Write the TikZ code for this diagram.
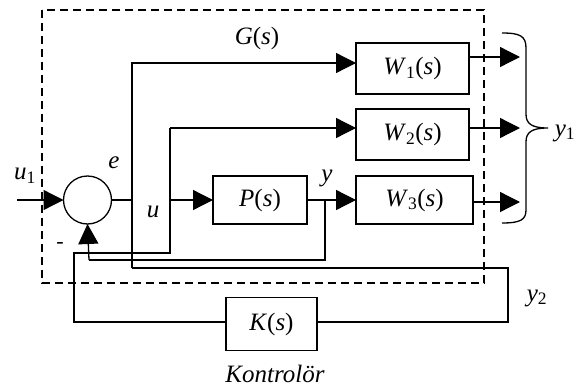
\documentclass[tikz,border=0pt]{standalone}
\usepackage{fontspec}
\setmainfont{Liberation Serif}
\usetikzlibrary{arrows.meta}
\begin{document}
\begin{tikzpicture}[x=1pt,y=-1pt,
  line width=1.3pt,
  blk/.style={draw, inner sep=0pt, outer sep=0pt, font=\fontsize{25}{29}\selectfont},
  lbl/.style={inner sep=0pt, font=\fontsize{25}{29}\selectfont\itshape},
  arr/.style={-{Triangle[length=20pt,width=20pt]}}]
\useasboundingbox (0,0) rectangle (584,391);
% dashed G(s) frame
\draw[dash pattern=on 8pt off 5pt, line width=1.2pt] (42,10) rectangle (484,283);
% blocks
\node[draw, circle, minimum size=48pt, inner sep=0pt, outer sep=0pt] (sum) at (87.5,200) {};
\node[blk, minimum width=113pt, minimum height=51pt] (W1) at (412.5,68.5) {\textit{W}\textsubscript{1}(\textit{s})};
\node[blk, minimum width=113pt, minimum height=51pt] (W2) at (412.5,134.5) {\textit{W}\textsubscript{2}(\textit{s})};
\node[blk, minimum width=117pt, minimum height=48pt] (W3) at (414.5,200) {\textit{W}\textsubscript{3}(\textit{s})};
\node[blk, minimum width=94pt, minimum height=48pt] (P) at (260,200) {\textit{P}(\textit{s})};
\node[blk, minimum width=91pt, minimum height=53pt] (K) at (271.5,324) {\textit{K}(\textit{s})};
% coordinates
\coordinate (u1in) at (17,200);
\coordinate (ej) at (132,200);
\coordinate (etop) at (132,63);
\coordinate (ebot) at (132,268);
\coordinate (ec1) at (508,268);
\coordinate (ec2) at (508,322);
\coordinate (kl) at (74,322);
\coordinate (kc) at (74,253);
\coordinate (ub) at (170,253);
\coordinate (ut) at (170,128);
\coordinate (um) at (170,200);
\coordinate (yj) at (325,200);
\coordinate (yb) at (325,260);
\coordinate (fb) at (89,260);
\coordinate (o1) at (520,57);
\coordinate (o2) at (520,128);
\coordinate (o3) at (520,202);
% connectors
\draw[arr] (u1in) -- (sum.west);
\draw (sum.east) -- (ej);
\draw[arr] (ebot) -- (etop) -- (W1.west |- etop);
\draw (ebot) -- (ec1) -- (ec2) -- (K.east |- ec2);
\draw (K.west |- kl) -- (kl) -- (kc) -- (ub) -- (ut);
\draw[arr] (ut) -- (W2.west |- ut);
\draw[arr] (um) -- (P.west);
\draw[arr] (P.east) -- (W3.west);
\draw (yj) -- (yb) -- (fb);
\draw[arr] (fb) -- (sum.south);
\draw[arr] (W1.east |- o1) -- (o1);
\draw[arr] (W2.east |- o2) -- (o2);
\draw[arr] (W3.east |- o3) -- (o3);
% brace
\draw (502,33) .. controls (520,33) and (526,36) .. (526,48) -- (526,114)
  .. controls (526,124) and (532,128) .. (548,128)
  .. controls (532,128) and (526,132) .. (526,142) -- (526,210)
  .. controls (526,220) and (520,223) .. (502,223);
% labels
\node[lbl] (lG) at (257,38) {G\textup{(}s\textup{)}};
\node[lbl] (le) at (114,163) {e};
\node[lbl] (lu1) at (25,176) {u\textup{\textsubscript{1}}};
\node[lbl] (lu) at (153,212) {u};
\node[lbl] (ly) at (327,178) {y};
\node[lbl] (ly1) at (565,133) {y\textup{\textsubscript{1}}};
\node[lbl] (ly2) at (537,298) {y\textup{\textsubscript{2}}};
\node[lbl] (lk) at (275,374) {Kontrolör};
\node[inner sep=0pt, font=\fontsize{22}{26}\selectfont] (lm) at (60,245) {-};
\end{tikzpicture}
\end{document}
